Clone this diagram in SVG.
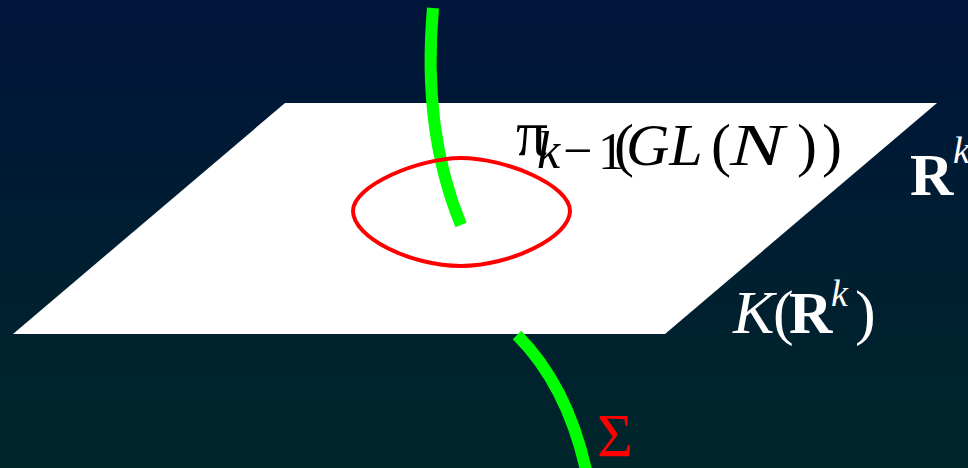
<svg xmlns="http://www.w3.org/2000/svg" width="968" height="468" viewBox="0 0 968 468">
<defs>
<linearGradient id="bg" x1="0" y1="0" x2="0" y2="1">
<stop offset="0" stop-color="#00153a"/>
<stop offset="1" stop-color="#00262a"/>
</linearGradient>
</defs>
<style>
.m{font-family:"Liberation Serif","Times New Roman",serif;}
.i{font-style:italic;}
.b{font-weight:bold;}
.w{fill:#ffffff;}
.k{fill:#000000;}
.g{fill:none;stroke:#00ff00;stroke-width:12;}
</style>
<rect x="0" y="0" width="968" height="468" fill="url(#bg)"/>
<g id="plane">
<polygon points="285,103 937,103 665,334 13,334" fill="#ffffff"/>
</g>
<g id="connectors">
<path class="g" d="M433,8 Q422,130 461,225"/>
<path class="g" d="M517,335 Q567,385 586,470"/>
</g>
<g id="loop">
<path d="M353,211 C353,185 420,158 461,158 C505,158 570,185 570,211 C570,237 510,266 461,266 C410,266 353,237 353,211 Z" fill="none" stroke="#ff0000" stroke-width="4"/>
</g>
<g id="label-pi" class="m k">
<text x="516" y="155" font-size="66" textLength="32" lengthAdjust="spacingAndGlyphs">π</text>
<text x="537" y="168" font-size="52" class="i">k</text>
<text x="563" y="168" font-size="52">−</text>
<text x="598" y="169" font-size="52">1</text>
<text x="614" y="165" font-size="60">(</text>
<text x="626" y="165" font-size="60" class="i">GL</text>
<text x="711" y="165" font-size="60">(</text>
<text x="730" y="165" font-size="60" class="i" textLength="54" lengthAdjust="spacingAndGlyphs">N</text>
<text x="797" y="165" font-size="60">)</text>
<text x="822" y="165" font-size="60">)</text>
</g>
<g id="label-Rk" class="m w">
<text x="910" y="195" font-size="60" class="b">R</text>
<text x="953" y="163" font-size="38" class="i">k</text>
</g>
<g id="label-KRk" class="m w">
<text x="733" y="333" font-size="62" class="i">K</text>
<text x="773" y="333" font-size="62">(</text>
<text x="789" y="333" font-size="60" class="b">R</text>
<text x="831" y="306" font-size="38" class="i">k</text>
<text x="855" y="333" font-size="62">)</text>
</g>
<g id="label-sigma">
<text x="597" y="456" font-size="62" class="m" fill="#ff0000">Σ</text>
</g>
</svg>
